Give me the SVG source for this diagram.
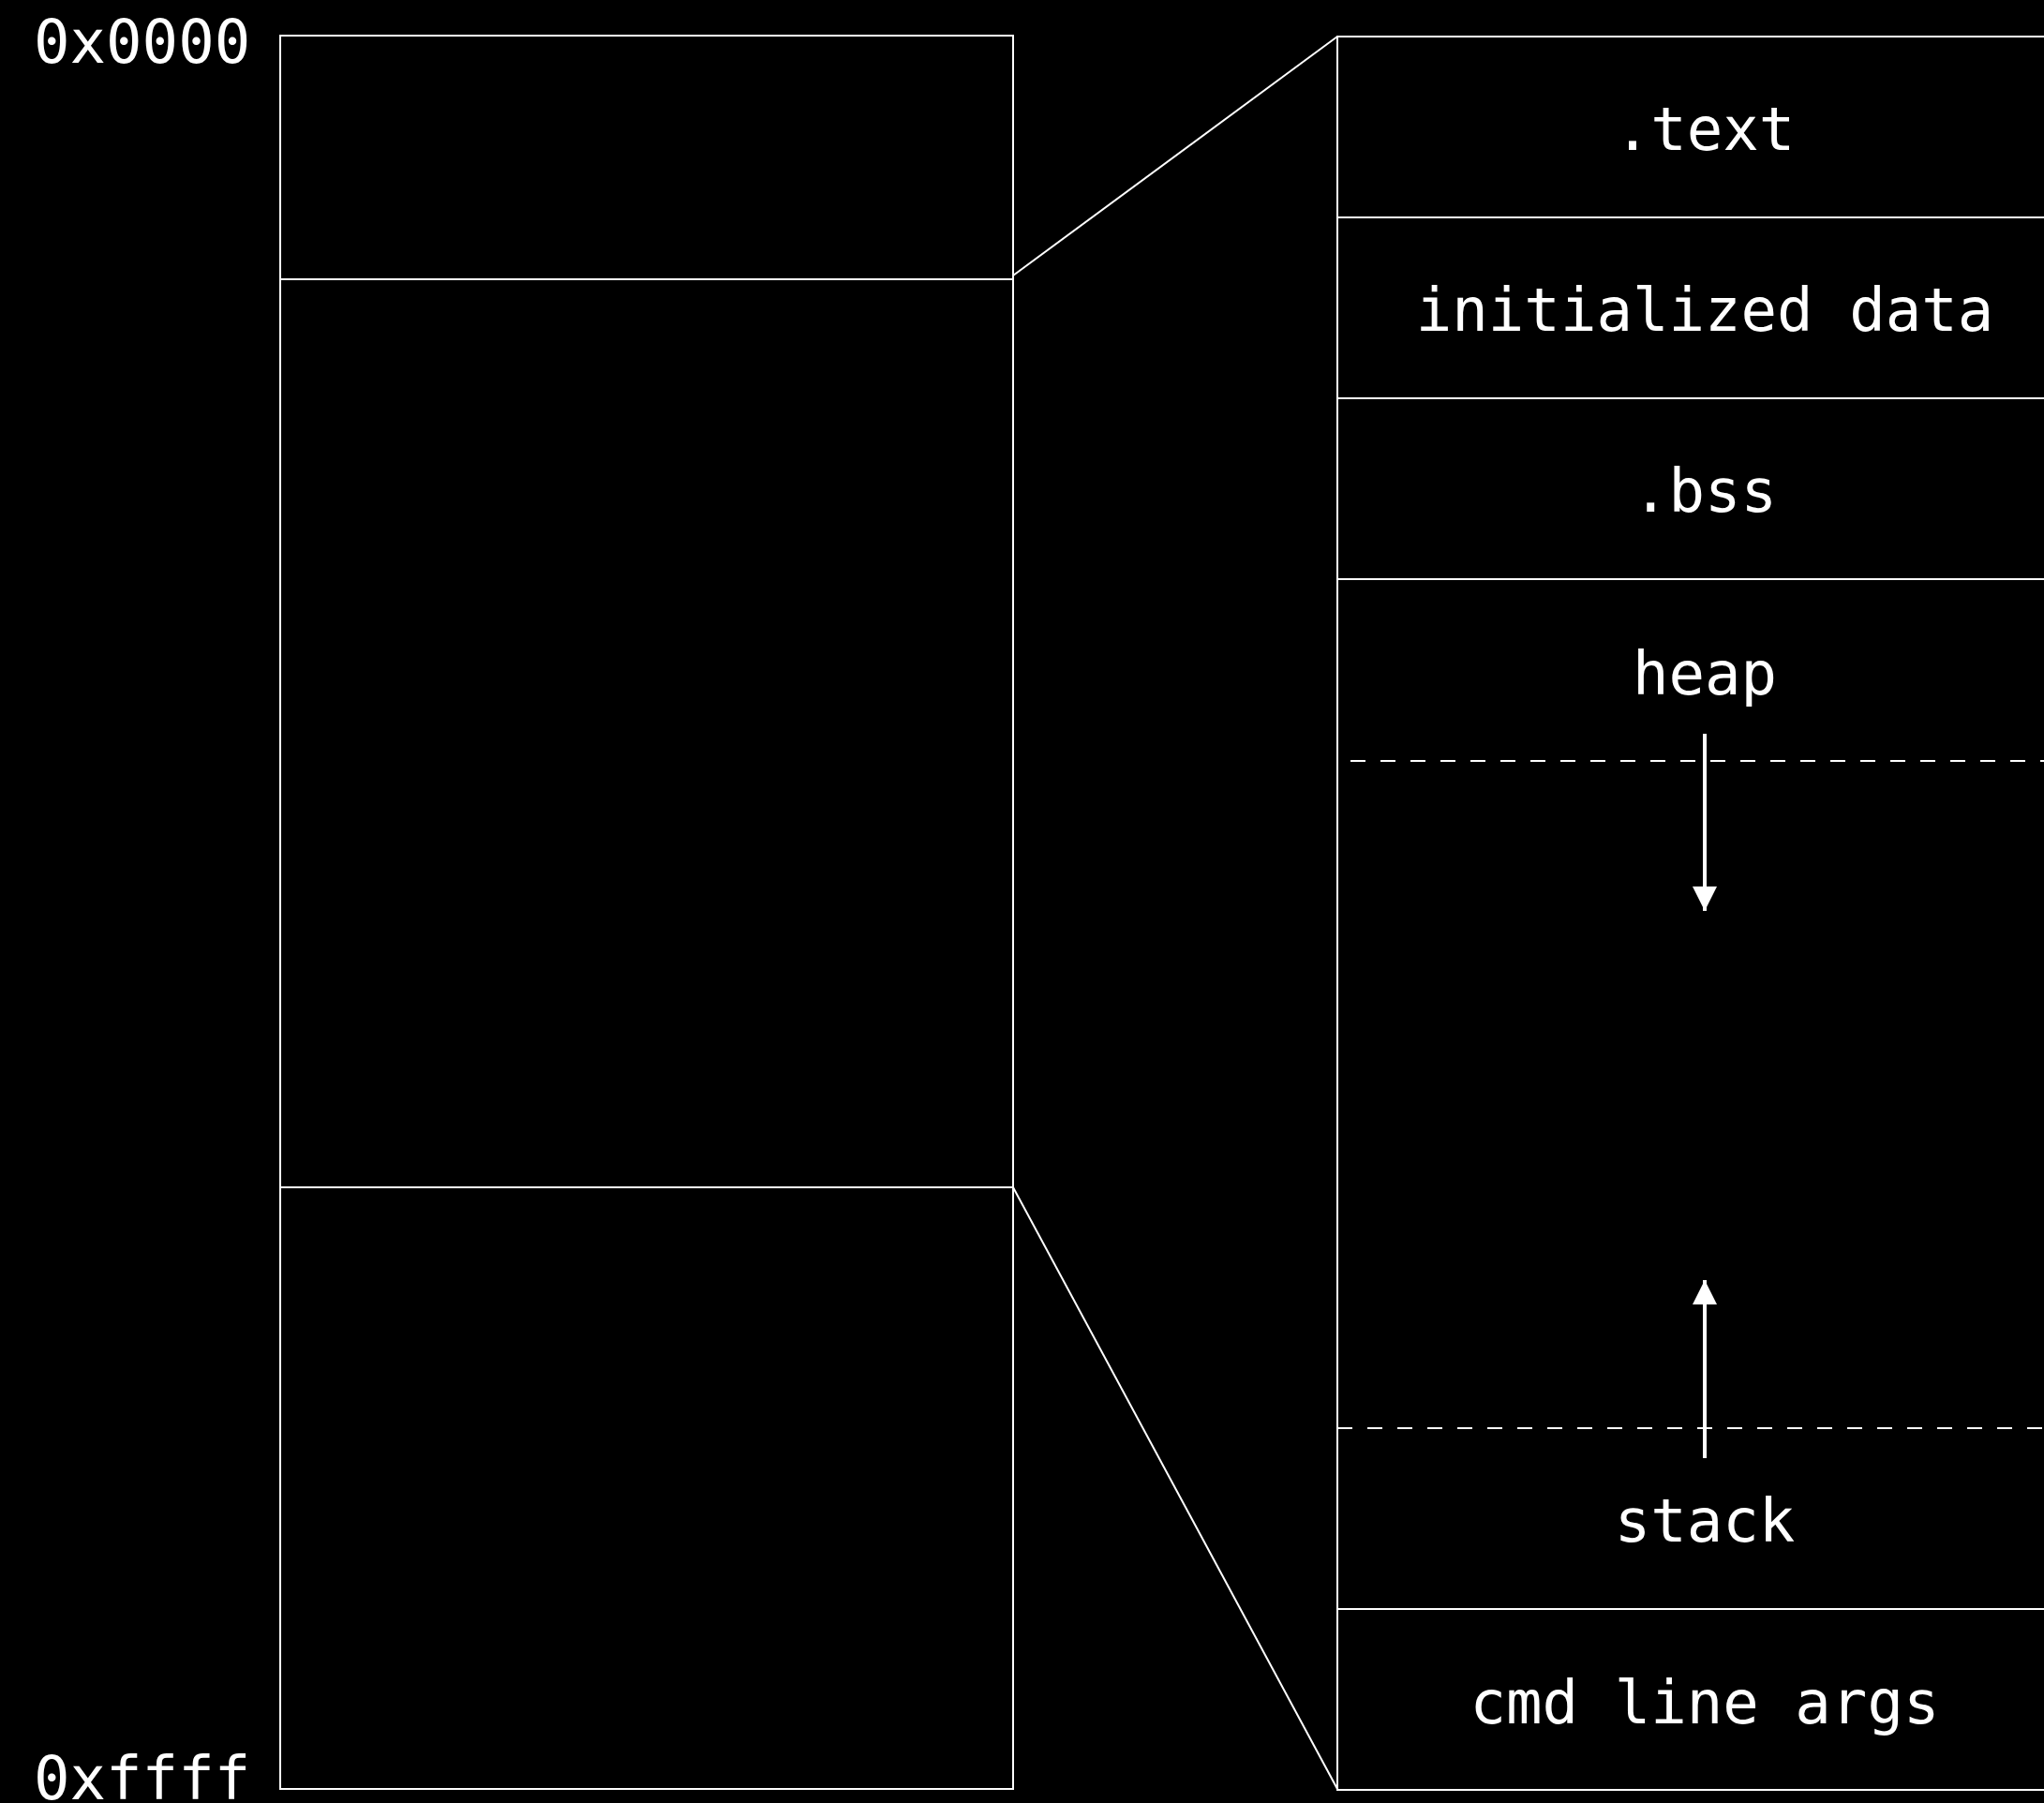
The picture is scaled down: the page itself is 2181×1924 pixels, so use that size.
<svg xmlns="http://www.w3.org/2000/svg" width="2181" height="1924" viewBox="0 0 2181 1924">
<style>
.ln{stroke:#ffffff;stroke-width:2;fill:none}
.dash{stroke:#ffffff;stroke-width:2;fill:none;stroke-dasharray:16 16}
.lbl{font-family:"DejaVu Sans Mono","Liberation Mono",monospace;font-size:64px;fill:#ffffff;text-anchor:middle}
.addr{font-family:"DejaVu Sans Mono","Liberation Mono",monospace;font-size:64px;fill:#ffffff}
.arr{stroke:#ffffff;stroke-width:4;fill:none}
</style>
<defs>
<marker id="ah" viewBox="0 0 10 10" refX="10" refY="5" markerWidth="26" markerHeight="26" markerUnits="userSpaceOnUse" orient="auto">
<path d="M0,0 L10,5 L0,10 Z" fill="#ffffff"/>
</marker>
</defs>
<rect x="0" y="0" width="2181" height="1924" fill="#000000"/>
<g id="address-labels">
<text class="addr" x="36" y="67">0x0000</text>
<text class="addr" x="36" y="1920">0xffff</text>
</g>
<g id="memory">
<rect class="ln" x="299" y="38" width="782" height="1871"/>
<line class="ln" x1="299" y1="298" x2="1081" y2="298"/>
<line class="ln" x1="299" y1="1267" x2="1081" y2="1267"/>
</g>
<g id="seg-text"><rect class="ln" x="1427" y="39" width="800" height="193"/><text class="lbl" x="1819" y="160">.text</text></g>
<g id="seg-data"><rect class="ln" x="1427" y="232" width="800" height="193"/><text class="lbl" x="1819" y="353">initialized data</text></g>
<g id="seg-bss"><rect class="ln" x="1427" y="425" width="800" height="193"/><text class="lbl" x="1819" y="546">.bss</text></g>
<g id="seg-heap">
<line class="ln" x1="1427" y1="618" x2="2227" y2="618"/>
<line class="ln" x1="1427" y1="618" x2="1427" y2="1717"/>
<text class="lbl" x="1819" y="741">heap</text>
<line class="dash" x1="1441" y1="812" x2="2181" y2="812"/>
</g>
<g id="seg-stack">
<line class="dash" x1="1427" y1="1524" x2="2181" y2="1524"/>
<text class="lbl" x="1819" y="1645">stack</text>
</g>
<g id="seg-args"><rect class="ln" x="1427" y="1717" width="800" height="193"/><text class="lbl" x="1819" y="1839">cmd line args</text></g>
<g id="connectors">
<line class="ln" x1="1081" y1="294" x2="1427" y2="39"/>
<line class="ln" x1="1081" y1="1267" x2="1427" y2="1909"/>
<line class="arr" x1="1819" y1="783" x2="1819" y2="972" marker-end="url(#ah)"/>
<line class="arr" x1="1819" y1="1556" x2="1819" y2="1366" marker-end="url(#ah)"/>
</g>
</svg>
